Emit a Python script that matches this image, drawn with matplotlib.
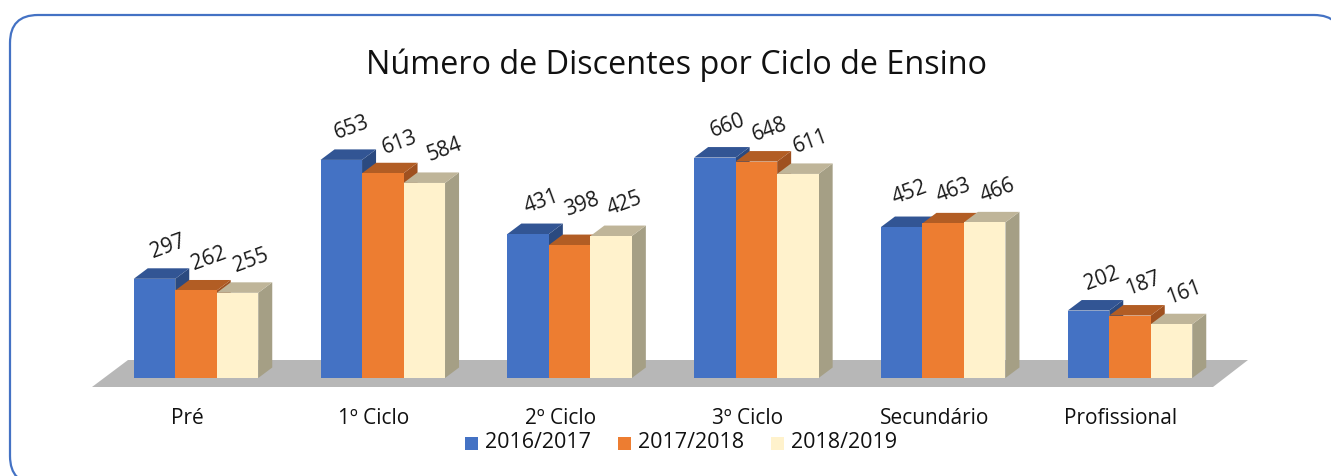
import matplotlib
matplotlib.use("Agg")
import matplotlib.pyplot as plt
from matplotlib.patches import FancyBboxPatch, Polygon, Rectangle
from matplotlib.transforms import IdentityTransform

plt.rcParams['font.family'] = ['Open Sans', 'DejaVu Sans']

categories = ['Pré', '1º Ciclo', '2º Ciclo', '3º Ciclo', 'Secundário', 'Profissional']
years = ['2016/2017', '2017/2018', '2018/2019']
v_2016 = [297, 653, 431, 660, 452, 202]
v_2017 = [262, 613, 398, 648, 463, 187]
v_2018 = [255, 584, 425, 611, 466, 161]
series = [v_2016, v_2017, v_2018]

front = ['#4472C4', '#ED7D31', '#FFF2CC']
top = ['#325594', '#B25D24', '#BFB599']
side = ['#2B4A80', '#9F5120', '#A59F85']
text_col = '#1a1a1a'

W, H = 1331, 476
PX_GROUP = 186.8   # px between groups
PX_VAL = 0.334     # px per pupil
BASE_PX = 378
FIRST_PX = 196

bar_w = 41.5 / PX_GROUP
dx = 14 / PX_GROUP
dy = 10.5 / PX_VAL

# labels that sit away from the usual spot above their bar (px right, px up)
label_nudge = {398: (-1, 8), 584: (7, 1), 452: (-5, 2), 613: (4, -1), 463: (-3, 1), 653: (-3, 0)}

fig = plt.figure(figsize=(W / 100, H / 100), dpi=100)
ax = fig.add_axes([0, 0, 1, 1])
ax.set_xlim(-FIRST_PX / PX_GROUP, (W - FIRST_PX) / PX_GROUP)
ax.set_ylim(-(H - BASE_PX) / PX_VAL, BASE_PX / PX_VAL)
ax.axis('off')

# rounded frame, in pixels, runs off the right and bottom of the image
ax.add_patch(FancyBboxPatch((10, -8), 1332, 469, boxstyle='round,pad=0,rounding_size=28',
                            transform=IdentityTransform(),
                            fc='white', ec='#4472C4', lw=1.6, clip_on=True))

# floor of the 3d chart
left, right = -104 / PX_GROUP, 1017 / PX_GROUP
floor_low, floor_high = -9 / PX_VAL, 18 / PX_VAL
ax.add_patch(Polygon([(left, floor_low), (right, floor_low),
                      (right + 35 / PX_GROUP, floor_high), (left + 36 / PX_GROUP, floor_high)],
                     fc='#B7B7B7', ec='none'))

for s, vals in enumerate(series):
    offs = (s - 1) * bar_w
    xs = [i + offs for i in range(len(vals))]
    for x, v in zip(xs, vals):
        x0, x1 = x - bar_w / 2, x + bar_w / 2
        ax.add_patch(Polygon([(x1, 0), (x1 + dx, dy), (x1 + dx, v + dy), (x1, v)],
                             fc=side[s], ec='none', zorder=2 + s))
        ax.add_patch(Polygon([(x0, v), (x1, v), (x1 + dx, v + dy), (x0 + dx, v + dy)],
                             fc=top[s], ec='none', zorder=2 + s))
        nx, ny = label_nudge.get(v, (0, 0))
        ax.text(x + (13 + nx) / PX_GROUP, v + (32 + ny) / PX_VAL, str(v), rotation=20, fontsize=15,
                color=text_col, ha='center', va='center', zorder=10)
    ax.bar(xs, vals, width=bar_w, color=front[s], zorder=2.5 + s)

for i, c in enumerate(categories):
    ax.text(i - 9 / PX_GROUP, -41 / PX_VAL, c, ha='center', va='center', fontsize=15, color='#111111')

ax.text((677 - FIRST_PX) / PX_GROUP, (BASE_PX - 65) / PX_VAL, 'Número de Discentes por Ciclo de Ensino',
        ha='center', va='center', fontsize=23.3, color='#111111')

# legend
leg_y = (BASE_PX - 443) / PX_VAL
for px, lab, c in zip([465, 618, 771], years, front):
    xp = (px - FIRST_PX) / PX_GROUP
    ax.add_patch(Rectangle((xp, leg_y - 6.5 / PX_VAL), 13 / PX_GROUP, 13 / PX_VAL, fc=c, ec='none'))
    ax.text(xp + 20 / PX_GROUP, leg_y, lab, ha='left', va='center', fontsize=15.5, color='#111111')

fig.savefig('out.png', dpi=100)
